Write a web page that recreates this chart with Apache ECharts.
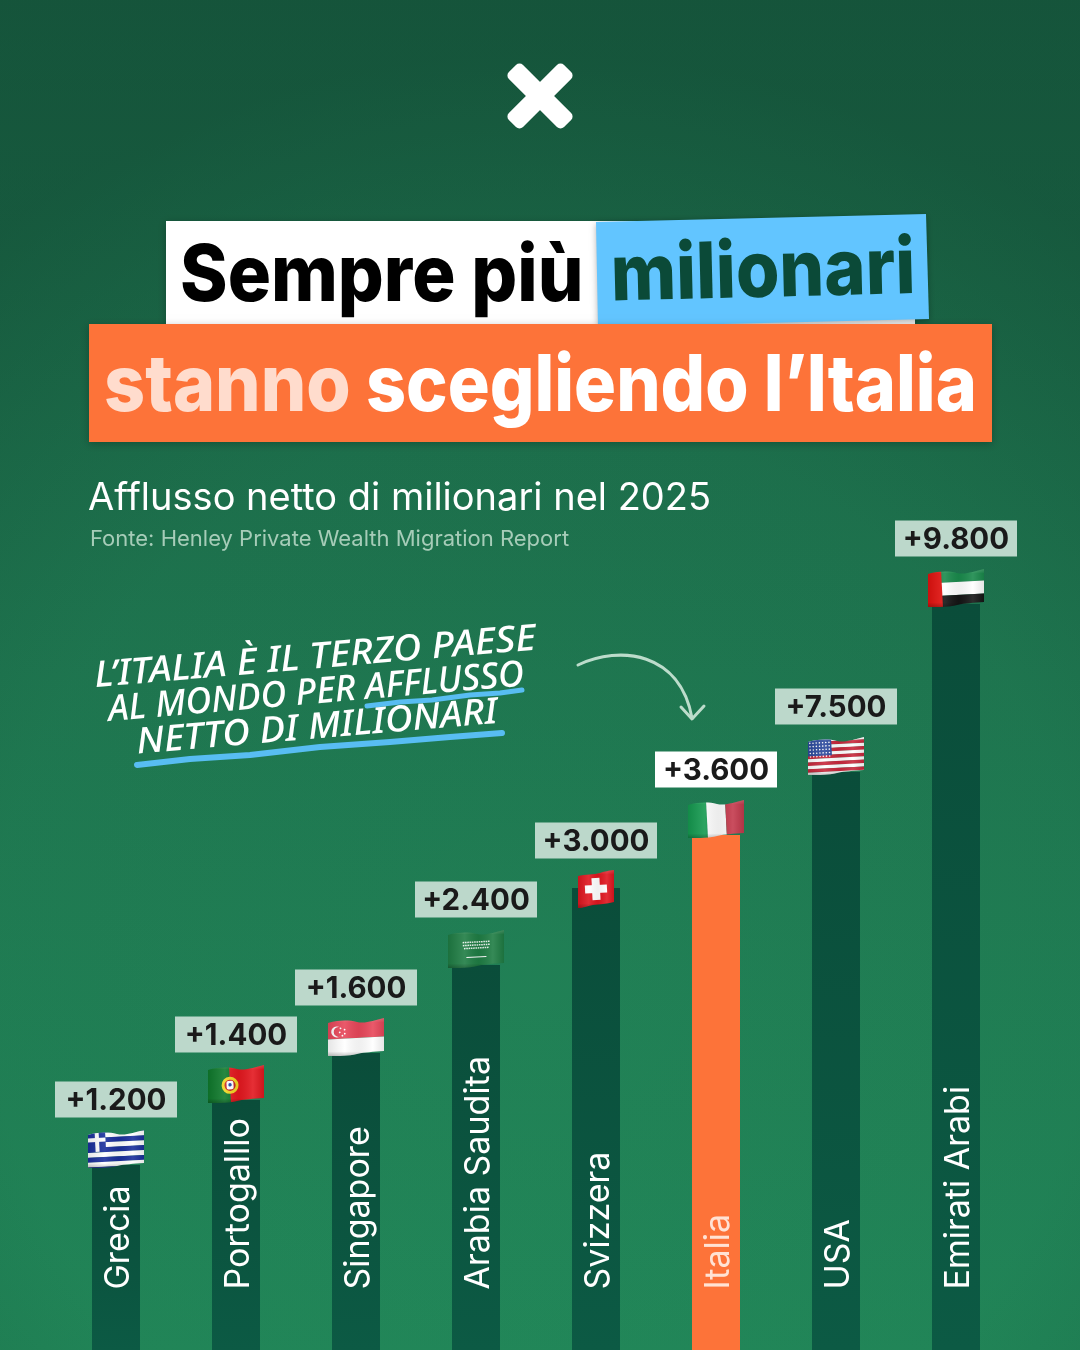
<!DOCTYPE html>
<html><head><meta charset="utf-8">
<style>html,body{margin:0;padding:0;background:#1f7450}#c{width:1080px;height:1350px}</style>
<script src="https://cdn.jsdelivr.net/npm/echarts@6/dist/echarts.min.js"></script>
</head><body><div id="c"></div>
<script>
const countries = ['Grecia','Portogalllo','Singapore','Arabia Saudita','Svizzera','Italia','USA','Emirati Arabi'];
const netInflow = [1200,1400,1600,2400,3000,3600,7500,9800];
const valueLabels = ['+1.200','+1.400','+1.600','+2.400','+3.000','+3.600','+7.500','+9.800'];
// The source chart's bar lengths are not proportional: each stretch between two values is compressed.
const axisBands = [[1,1199,183],[1201,1399,63],[1401,1599,45],[1601,2399,86],[2401,2999,75],[3001,3599,51],[3601,7499,61],[7501,9799,166]];
const axisMax = 10404;

function flag(inner, w){
  w = w || 56;
  const clip = w===56
    ? 'M0 5C12 2 20 2 29 4S46 2 56 0L56 33C44 34 38 34 29 36S12 38 0 38Z'
    : 'M0 6C8 4 16 5 22 3S30 1 36 0L36 32C28 34 22 34 15 35S6 38 0 38Z';
  const s = `<svg xmlns="http://www.w3.org/2000/svg" width="${w*3}" height="114" viewBox="0 0 ${w} 38">
<defs><clipPath id="k"><path d="${clip}"/></clipPath>
<linearGradient id="g" x1="0" x2="1" y1="0" y2="0"><stop offset="0" stop-color="#000" stop-opacity=".1"/><stop offset=".3" stop-color="#fff" stop-opacity=".1"/><stop offset=".55" stop-color="#000" stop-opacity=".06"/><stop offset=".8" stop-color="#fff" stop-opacity=".1"/><stop offset="1" stop-color="#000" stop-opacity=".1"/></linearGradient>
<linearGradient id="h" x1="0" x2="0" y1="0" y2="1"><stop offset="0" stop-color="#fff" stop-opacity=".16"/><stop offset=".12" stop-color="#fff" stop-opacity="0"/><stop offset=".88" stop-color="#000" stop-opacity="0"/><stop offset="1" stop-color="#000" stop-opacity=".22"/></linearGradient></defs>
<g clip-path="url(#k)"><g transform="rotate(-3 ${w/2} 19)">${inner}</g><rect width="${w}" height="38" fill="url(#g)"/><rect width="${w}" height="38" fill="url(#h)"/></g></svg>`;
  return 'image://data:image/svg+xml;charset=utf-8,' + encodeURIComponent(s);
}
function stripes(n, a, b){
  let r=''; const h=44/n;
  for(let i=0;i<n;i++) r+=`<rect x="-4" y="${-3+i*h}" width="66" height="${h+.2}" fill="${i%2?b:a}"/>`;
  return r;
}
function usStars(){
  let r='';
  for(let y=0;y<5;y++) for(let x=0;x<7;x++) r+=`<circle cx="${2.5+x*3.2}" cy="${5+y*3.4}" r=".8" fill="#fff"/>`;
  return r;
}
const flagImages = {
  Grecia: flag(stripes(9,'#1a2f9c','#ffffff')+'<rect x="-4" y="-3" width="22" height="24" fill="#1a2f9c"/><rect x="7.5" y="-3" width="4" height="24" fill="#fff"/><rect x="-4" y="7" width="22" height="4" fill="#fff"/>'),
  Portogalllo: flag('<rect x="-4" y="-4" width="26" height="48" fill="#0f7a2c"/><rect x="22" y="-4" width="40" height="48" fill="#e3181f"/><circle cx="22" cy="20" r="8.5" fill="#f2d521"/><circle cx="22" cy="20" r="5.6" fill="#c8251f"/><rect x="18.5" y="15.5" width="7" height="8.5" rx="2" fill="#fff"/><circle cx="22" cy="19.5" r="1.7" fill="#2346a8"/>'),
  Singapore: flag('<rect x="-4" y="-4" width="66" height="24" fill="#e8475a"/><rect x="-4" y="20" width="66" height="24" fill="#ffffff"/><circle cx="9" cy="13" r="5.5" fill="#fff"/><circle cx="11" cy="13" r="5" fill="#e8475a"/><circle cx="13" cy="9.5" r=".9" fill="#fff"/><circle cx="17" cy="11" r=".9" fill="#fff"/><circle cx="12" cy="13.5" r=".9" fill="#fff"/><circle cx="17" cy="15" r=".9" fill="#fff"/><circle cx="14.5" cy="17" r=".9" fill="#fff"/>'),
  'Arabia Saudita': flag('<rect x="-4" y="-4" width="66" height="48" fill="#1f7d44"/><path d="M15 12h27M15 15h27M16 18h25" stroke="#e8f3ec" stroke-width="1.5" stroke-dasharray="1.6 .7"/><path d="M18 27H38" stroke="#fff" stroke-width="1.1"/>'),
  Svizzera: flag('<rect x="-4" y="-4" width="46" height="48" fill="#e0161f"/><rect x="14" y="8" width="8" height="22" fill="#fff"/><rect x="7" y="15" width="22" height="8" fill="#fff"/>',36),
  Italia: flag('<rect x="-4" y="-4" width="23" height="48" fill="#159a50"/><rect x="19" y="-4" width="19" height="48" fill="#fbfbfb"/><rect x="38" y="-4" width="24" height="48" fill="#c43a4d"/>'),
  USA: flag(stripes(13,'#c8283c','#ffffff')+'<rect x="-4" y="-3" width="28" height="21" fill="#2c4a9e"/>'+usStars()),
  'Emirati Arabi': flag('<rect x="-4" y="-4" width="66" height="17" fill="#1a8a4c"/><rect x="-4" y="13" width="66" height="13" fill="#ffffff"/><rect x="-4" y="26" width="66" height="18" fill="#151515"/><rect x="-4" y="-4" width="18" height="48" fill="#e3120f"/>')
};

const titleFont = '800 78px Inter';
const noteFont = 'italic 500 36px "Noto Sans"';
const graphicEls = [
  {type:'rect',shape:{x:0,y:0,width:1080,height:1350},style:{fill:{type:'radial',x:.5,y:.72,r:.85,colorStops:[{offset:0,color:'rgba(20,70,50,0)'},{offset:.6,color:'rgba(16,64,44,.06)'},{offset:1,color:'rgba(10,50,35,.3)'}]}},silent:true},
  {type:'rect',x:540,y:96,rotation:Math.PI/4,shape:{x:-39,y:-10,width:78,height:20,r:5},style:{fill:'#fff'}},
  {type:'rect',x:540,y:96,rotation:-Math.PI/4,shape:{x:-39,y:-10,width:78,height:20,r:5},style:{fill:'#fff'}},
  {type:'rect',shape:{x:166,y:221,width:749,height:104},style:{fill:'#fff',shadowBlur:8,shadowColor:'rgba(0,0,0,.25)',shadowOffsetY:2}},
  {type:'polygon',shape:{points:[[596,222],[926,214],[929,319],[598,327]]},style:{fill:'#62c5ff',shadowBlur:6,shadowColor:'rgba(0,0,0,.3)',shadowOffsetY:2}},
  {type:'rect',shape:{x:89,y:324,width:903,height:118},style:{fill:'#fd7339',shadowBlur:8,shadowColor:'rgba(0,0,0,.25)',shadowOffsetY:2}},
  {type:'text',x:180,y:278,scaleX:.925,style:{text:'Sempre più',fill:'#000',font:titleFont,textAlign:'left',textVerticalAlign:'middle'}},
  {type:'text',x:611,y:277,rotation:.024,scaleX:.902,style:{text:'milionari',fill:'#0b4a38',font:titleFont,textAlign:'left',textVerticalAlign:'middle'}},
  {type:'text',x:104,y:388,scaleX:.92,style:{text:'stanno',fill:'#ffdccd',font:titleFont,textAlign:'left',textVerticalAlign:'middle'}},
  {type:'text',x:366,y:388,scaleX:.897,style:{text:'scegliendo l’Italia',fill:'#fff',font:titleFont,textAlign:'left',textVerticalAlign:'middle'}},
  {type:'text',x:88,y:499,style:{text:'Afflusso netto di milionari nel 2025',fill:'#fff',font:'400 38px Inter',textAlign:'left',textVerticalAlign:'middle'}},
  {type:'text',x:90,y:539,style:{text:'Fonte: Henley Private Wealth Migration Report',fill:'#a6ccb8',font:'400 22px Inter',textAlign:'left',textVerticalAlign:'middle'}},
  {type:'polyline',shape:{points:[[367,706],[400,702],[432,700],[470,695],[500,693],[522,690]]},style:{fill:'none',stroke:'#58bdf2',lineWidth:5,lineCap:'round',lineJoin:'round'}},
  {type:'polyline',shape:{points:[[137,765],[190,759],[250,755],[320,747],[390,742],[450,737],[502,733]]},style:{fill:'none',stroke:'#58bdf2',lineWidth:6,lineCap:'round',lineJoin:'round'}},
  {type:'text',x:315,y:658,rotation:.085,scaleX:1.087,style:{text:'L’ITALIA È IL TERZO PAESE',fill:'#fff',font:noteFont,textAlign:'center',textVerticalAlign:'middle'}},
  {type:'text',x:316,y:693,rotation:.085,scaleX:.99,style:{text:'AL MONDO PER AFFLUSSO',fill:'#fff',font:noteFont,textAlign:'center',textVerticalAlign:'middle'}},
  {type:'text',x:317,y:728,rotation:.085,scaleX:1.06,style:{text:'NETTO DI MILIONARI',fill:'#fff',font:noteFont,textAlign:'center',textVerticalAlign:'middle'}},
  {type:'bezierCurve',shape:{x1:578,y1:665,cpx1:620,cpy1:645,cpx2:680,cpy2:652,x2:692,y2:718},style:{fill:'none',stroke:'#bcdccb',lineWidth:3,lineCap:'round'}},
  {type:'polyline',shape:{points:[[681,707],[692,719],[704,706]]},style:{fill:'none',stroke:'#bcdccb',lineWidth:3,lineCap:'round',lineJoin:'round'}}
];

const barFill = {type:'linear',x:0,y:0,x2:0,y2:1,colorStops:[{offset:0,color:'#0a4d3a'},{offset:1,color:'#0c5a44'}]};
const chart = echarts.init(document.getElementById('c'),null,{renderer:'canvas',width:1080,height:1350});
chart.setOption({
  animation:false,
  backgroundColor:{type:'linear',x:0,y:0,x2:0,y2:1,colorStops:[{offset:0,color:'#1a6345'},{offset:.5,color:'#1f7851'},{offset:1,color:'#22895a'}]},
  graphic:{elements:graphicEls},
  grid:{left:56,right:64,top:0,bottom:0},
  xAxis:{type:'category',data:countries,show:false},
  yAxis:{type:'value',show:false,min:0,max:axisMax,splitLine:{show:false},
    breaks:axisBands.map(b=>({start:b[0],end:b[1],gap:b[2]})),breakArea:{show:false}},
  series:[
    {type:'bar',barWidth:48,z:2,
     data:netInflow.map((v,i)=>({value:v,itemStyle:{color:countries[i]==='Italia'?'#fd7339':barFill},
       label:{color:countries[i]==='Italia'?'#ffe2d4':'#fff'}})),
     label:{show:true,position:'insideBottom',distance:60.5,rotate:90,align:'left',verticalAlign:'middle',offset:[0,2.5],
       fontFamily:'Inter',fontSize:34,fontWeight:400,formatter:p=>countries[p.dataIndex]}},
    {type:'scatter',z:4,silent:true,itemStyle:{opacity:1},
     data:netInflow.map((v,i)=>({value:[countries[i],v],symbol:flagImages[countries[i]],
       symbolSize:countries[i]==='Svizzera'?[36,38]:[56,38],
       symbolOffset:[0,countries[i]==='Svizzera'?1:-16]}))},
    {type:'scatter',z:5,silent:true,symbolSize:1,itemStyle:{color:'transparent',opacity:1},
     data:netInflow.map((v,i)=>({value:[countries[i],v],
       label:{distance:countries[i]==='Svizzera'?29:47,
         backgroundColor:countries[i]==='Italia'?'#ffffff':'#bcd8cb'}})),
     label:{show:true,opacity:1,position:'top',width:122,height:36,lineHeight:32,align:'center',
       fontFamily:'Inter',fontSize:29.5,fontWeight:700,color:'#1a1a1a',formatter:p=>valueLabels[p.dataIndex]}}
  ]
});
</script></body></html>
